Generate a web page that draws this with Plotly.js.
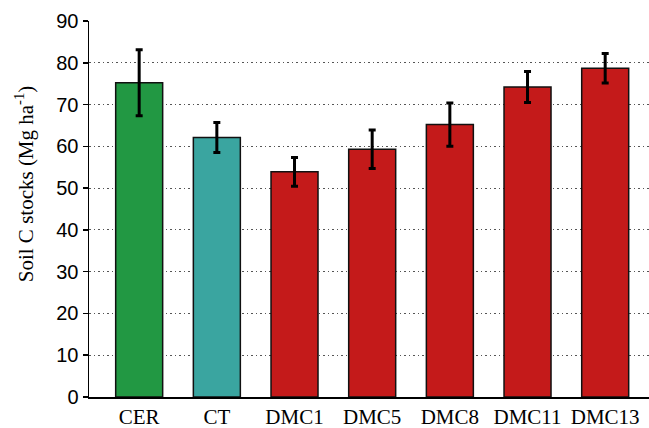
<!DOCTYPE html>
<html>
<head>
<meta charset="utf-8">
<script src="https://cdn.plot.ly/plotly-3.0.1.min.js"></script>
<style>html,body{margin:0;padding:0;background:#fff;}#chart{width:649px;height:428px;}</style>
</head>
<body>
<div id="chart"></div>
<script>
const categories = ["CER", "CT", "DMC1", "DMC5", "DMC8", "DMC11", "DMC13"];
const soilC = [75.2, 62.1, 53.9, 59.3, 65.2, 74.2, 78.7];
const errors = [7.9, 3.6, 3.45, 4.6, 5.2, 3.7, 3.55];
const barColors = ["#229843", "#3aa5a0", "#c41a1a", "#c41a1a", "#c41a1a", "#c41a1a", "#c41a1a"];
const yTicks = [0, 10, 20, 30, 40, 50, 60, 70, 80, 90];
const yTitle = "Soil C stocks (Mg ha<sup>-1</sup>)";

const SERIF = "Liberation Serif";
const SANS = "Liberation Sans";

const trace = {
  type: "bar",
  x: categories,
  y: soilC,
  width: 0.605,
  marker: {color: barColors, line: {color: "#111", width: 1.5}},
  error_y: {type: "data", array: errors, visible: true, color: "#000", thickness: 3, width: 3.5}
};

const layout = {
  width: 649, height: 428,
  margin: {l: 89, r: 0, t: 21, b: 31, pad: 0},
  paper_bgcolor: "#fff", plot_bgcolor: "#fff",
  showlegend: false,
  xaxis: {
    range: [-0.646, 6.564],
    showline: true, linecolor: "#000", linewidth: 1.5,
    ticks: "", showgrid: false, zeroline: false,
    tickfont: {family: SERIF, size: 21, color: "#000"},
    fixedrange: true
  },
  yaxis: {
    range: [0, 90],
    tickvals: yTicks,
    showline: true, linecolor: "#000", linewidth: 1.5,
    ticks: "outside", ticklen: 5, tickwidth: 1.5, tickcolor: "#000",
    showgrid: true, gridcolor: "#555", griddash: "1.5px,3px", gridwidth: 1.2,
    zeroline: false,
    tickfont: {family: SANS, size: 20, color: "#000"}
  },
  annotations: [{
    text: yTitle, textangle: -90,
    xref: "paper", yref: "paper", x: -0.116, y: 0.566,
    xanchor: "center", yanchor: "middle", showarrow: false,
    font: {family: SERIF, size: 21, color: "#000"}
  }]
};

Plotly.newPlot("chart", [trace], layout, {displayModeBar: false, staticPlot: true});
</script>
</body>
</html>
